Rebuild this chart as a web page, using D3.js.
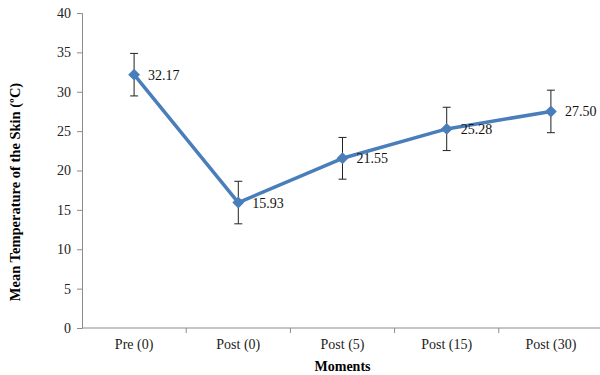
<!DOCTYPE html>
<html>
<head>
<script src="https://cdn.jsdelivr.net/npm/d3@7"></script>
<style>
  body { margin: 0; background: #fff; }
  text { font-family: "Liberation Serif", "Times New Roman", serif; }
</style>
</head>
<body>
<script>
var moments = ["Pre (0)", "Post (0)", "Post (5)", "Post (15)", "Post (30)"];
var means = [32.17, 15.93, 21.55, 25.28, 27.50];
var errors = [2.7, 2.7, 2.65, 2.75, 2.7];
var yTicks = [0, 5, 10, 15, 20, 25, 30, 35, 40];

var w = 600, h = 375;
var margin = { top: 13, right: -3, bottom: 47, left: 82 };

var svg = d3.select("body").append("svg")
  .attr("width", w)
  .attr("height", h);

var x = d3.scaleBand()
  .domain(moments)
  .range([margin.left, w - margin.right]);

var y = d3.scaleLinear()
  .domain([0, 40])
  .range([h - margin.bottom, margin.top]);

var axisColor = "#8c8c8c";

// y axis
var yAxis = svg.append("g")
  .attr("transform", "translate(" + margin.left + ",0)")
  .call(d3.axisLeft(y).tickValues(yTicks).tickSize(5).tickPadding(6));
yAxis.select(".domain").attr("stroke", axisColor);
yAxis.selectAll(".tick line").attr("stroke", axisColor);
yAxis.selectAll(".tick text")
  .attr("font-size", 14)
  .attr("font-family", "Liberation Serif, serif")
  .attr("fill", "#222");

// x axis: ticks at band boundaries
var xg = svg.append("g")
  .attr("transform", "translate(0," + y(0) + ")");
xg.append("line")
  .attr("x1", x.range()[0]).attr("x2", x.range()[1])
  .attr("stroke", axisColor);
xg.selectAll("line.tk")
  .data(moments.slice(1))
  .enter().append("line")
  .attr("class", "tk")
  .attr("x1", function (d) { return x(d); })
  .attr("x2", function (d) { return x(d); })
  .attr("y1", 0).attr("y2", 5)
  .attr("stroke", axisColor);
xg.selectAll("text")
  .data(moments)
  .enter().append("text")
  .attr("x", function (d) { return x(d) + x.bandwidth() / 2; })
  .attr("y", 21)
  .attr("text-anchor", "middle")
  .attr("font-size", 14)
  .attr("fill", "#222")
  .text(function (d) { return d; });

// axis titles
svg.append("text")
  .attr("x", x(moments[2]) + x.bandwidth() / 2)
  .attr("y", 371)
  .attr("text-anchor", "middle")
  .attr("font-size", 14)
  .attr("font-weight", "bold")
  .text("Moments");

svg.append("text")
  .attr("transform", "translate(20,192) rotate(-90)")
  .attr("text-anchor", "middle")
  .attr("font-size", 14.5)
  .attr("font-weight", "bold")
  .text("Mean Temperature of the Skin (ºC)");

var cx = function (i) { return x(moments[i]) + x.bandwidth() / 2; };

// error bars
var eb = svg.append("g").attr("stroke", "#222").attr("stroke-width", 1);
means.forEach(function (m, i) {
  var top = y(m + errors[i]), bot = y(m - errors[i]);
  eb.append("line").attr("x1", cx(i)).attr("x2", cx(i)).attr("y1", top).attr("y2", bot);
  eb.append("line").attr("x1", cx(i) - 4).attr("x2", cx(i) + 4).attr("y1", top).attr("y2", top);
  eb.append("line").attr("x1", cx(i) - 4).attr("x2", cx(i) + 4).attr("y1", bot).attr("y2", bot);
});

// line
var line = d3.line()
  .x(function (d, i) { return cx(i); })
  .y(function (d) { return y(d); });

svg.append("path")
  .datum(means)
  .attr("d", line)
  .attr("fill", "none")
  .attr("stroke", "#4a7ebb")
  .attr("stroke-width", 3.5)
  .attr("stroke-linejoin", "round");

// diamond markers
svg.selectAll("path.marker")
  .data(means)
  .enter().append("path")
  .attr("class", "marker")
  .attr("d", d3.symbol().type(d3.symbolDiamond2).size(90))
  .attr("transform", function (d, i) { return "translate(" + cx(i) + "," + y(d) + ")"; })
  .attr("fill", "#4a7ebb");

// value labels
svg.selectAll("text.val")
  .data(means)
  .enter().append("text")
  .attr("class", "val")
  .attr("x", function (d, i) { return cx(i) + 14; })
  .attr("y", function (d) { return y(d) + 5; })
  .attr("font-size", 14)
  .attr("fill", "#111")
  .text(function (d) { return d.toFixed(2); });
</script>
</body>
</html>
